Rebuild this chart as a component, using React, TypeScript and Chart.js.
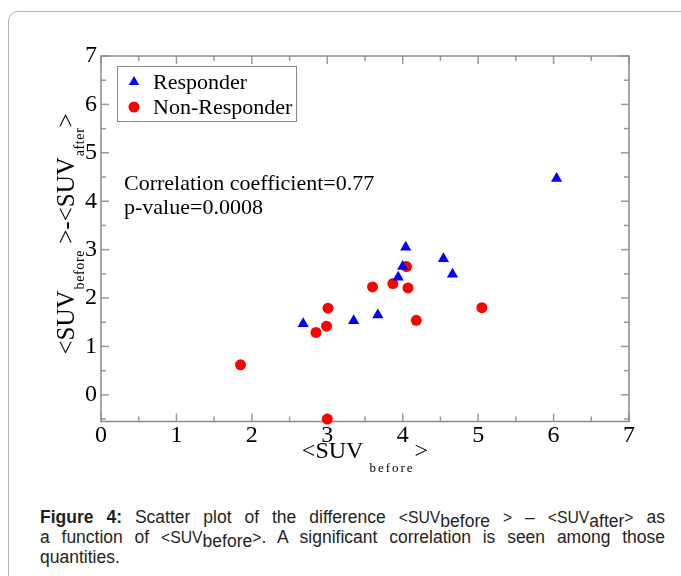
import React, { useEffect, useRef } from "react";
import { Chart, registerables } from "chart.js";

Chart.register(...registerables);

// ---- data ----
const seriesLabels = ["Responder", "Non-Responder"];
const responderX = [2.68, 3.35, 3.67, 3.94, 4.0, 4.04, 4.54, 4.66, 6.04];
const responderY = [1.47, 1.53, 1.65, 2.43, 2.65, 3.05, 2.81, 2.49, 4.47];
const nonResponderX = [1.85, 2.85, 2.99, 3.01, 3.0, 3.6, 3.87, 4.05, 4.07, 4.18, 5.05];
const nonResponderY = [0.62, 1.29, 1.42, 1.79, -0.5, 2.23, 2.3, 2.65, 2.21, 1.54, 1.8];
const xTickValues = [0, 1, 2, 3, 4, 5, 6, 7];
const yTickValues = [0, 1, 2, 3, 4, 5, 6, 7];
const xMinorValues = [0.5, 1.5, 2.5, 3.5, 4.5, 5.5, 6.5];
const yMinorValues = [-0.5, 0.5, 1.5, 2.5, 3.5, 4.5, 5.5, 6.5];
const statLines = ["Correlation coefficient=0.77", "p-value=0.0008"];

const SERIF = '"Liberation Serif", "Times New Roman", serif';
const CANVAS_W = 681;
const CANVAS_H = 490;

function drawMarker(ctx: CanvasRenderingContext2D, style: string, x: number, y: number, r: number, color: string) {
  ctx.save();
  ctx.fillStyle = color;
  ctx.beginPath();
  if (style === "triangle") {
    let rad = 0;
    ctx.moveTo(x + Math.sin(rad) * r, y - Math.cos(rad) * r);
    rad += (2 * Math.PI) / 3;
    ctx.lineTo(x + Math.sin(rad) * r, y - Math.cos(rad) * r);
    rad += (2 * Math.PI) / 3;
    ctx.lineTo(x + Math.sin(rad) * r, y - Math.cos(rad) * r);
    ctx.closePath();
  } else {
    ctx.arc(x, y, r, 0, Math.PI * 2);
  }
  ctx.fill();
  ctx.restore();
}

type Seg = { t: string; sub?: boolean; gap?: number };

function segWidth(ctx: CanvasRenderingContext2D, segs: Seg[], main: number, sub: number, sp: number) {
  let w = 0;
  for (const s of segs) {
    ctx.font = `${s.sub ? sub : main}px ${SERIF}`;
    (ctx as any).letterSpacing = s.sub ? `${sp}px` : "0px";
    w += ctx.measureText(s.t).width + (s.gap || 0);
  }
  (ctx as any).letterSpacing = "0px";
  return w;
}

function drawSegs(ctx: CanvasRenderingContext2D, segs: Seg[], x0: number, base: number, main: number, sub: number, sp: number, off: number) {
  let x = x0;
  for (const s of segs) {
    x += s.gap || 0;
    ctx.font = `${s.sub ? sub : main}px ${SERIF}`;
    (ctx as any).letterSpacing = s.sub ? `${sp}px` : "0px";
    ctx.fillText(s.t, x, base + (s.sub ? off : 0));
    x += ctx.measureText(s.t).width;
  }
  (ctx as any).letterSpacing = "0px";
}

const framePlugin = {
  id: "frame",
  beforeDatasetsDraw(chart: any) {
    const { ctx, chartArea: a, scales } = chart;
    const xs = scales.x;
    const ys = scales.y;
    ctx.save();
    ctx.strokeStyle = "#9a9a9a";
    ctx.lineWidth = 1.5;
    const tick = (x1: number, y1: number, x2: number, y2: number) => {
      ctx.beginPath();
      ctx.moveTo(x1, y1);
      ctx.lineTo(x2, y2);
      ctx.stroke();
    };
    xTickValues.forEach((v) => {
      const p = xs.getPixelForValue(v);
      tick(p, a.bottom, p, a.bottom - 8);
      tick(p, a.top, p, a.top + 8);
    });
    xMinorValues.forEach((v) => {
      const p = xs.getPixelForValue(v);
      tick(p, a.bottom, p, a.bottom - 5);
      tick(p, a.top, p, a.top + 5);
    });
    yTickValues.forEach((v) => {
      const p = ys.getPixelForValue(v);
      tick(a.left, p, a.left + 8, p);
      tick(a.right, p, a.right - 8, p);
    });
    yMinorValues.forEach((v) => {
      const p = ys.getPixelForValue(v);
      tick(a.left, p, a.left + 5, p);
      tick(a.right, p, a.right - 5, p);
    });
    ctx.strokeStyle = "#8a8a8a";
    ctx.lineWidth = 1.5;
    ctx.strokeRect(a.left, a.top, a.right - a.left, a.bottom - a.top);
    ctx.restore();
  },
};

const overlayPlugin = {
  id: "overlay",
  afterDatasetsDraw(chart: any) {
    const { ctx, chartArea: a } = chart;
    ctx.save();
    // legend box
    const bx = a.left + 16;
    const by = a.top + 10;
    ctx.strokeStyle = "#8a8a8a";
    ctx.lineWidth = 1;
    ctx.strokeRect(bx + 0.5, by + 0.5, 179, 55);
    const ds = chart.data.datasets;
    ctx.font = `22px ${SERIF}`;
    ctx.fillStyle = "#000";
    ctx.textBaseline = "middle";
    ctx.textAlign = "left";
    ds.forEach((d: any, i: number) => {
      const cy = by + 16 + i * 25;
      drawMarker(ctx, d.pointStyle, bx + 17, cy, d.pointStyle === "triangle" ? 6 : 5.5, d.backgroundColor);
      ctx.fillStyle = "#000";
      ctx.font = `22px ${SERIF}`;
      ctx.fillText(d.label, bx + 36, cy + 1);
    });
    // stats text
    statLines.forEach((s, i) => {
      ctx.fillText(s, a.left + 23, 184 + i * 24);
    });
    // axis titles
    ctx.textBaseline = "alphabetic";
    ctx.fillStyle = "#000";
    const ySegs: Seg[] = [
      { t: "<SUV" },
      { t: "before", sub: true, gap: 1 },
      { t: " >-<SUV" },
      { t: "after", sub: true, gap: 1 },
      { t: ">" },
    ];
    const yw = segWidth(ctx, ySegs, 25, 14, 0.6);
    ctx.save();
    ctx.translate(74, 234);
    ctx.rotate(-Math.PI / 2);
    drawSegs(ctx, ySegs, -yw / 2, 0, 25, 14, 0.6, 10);
    ctx.restore();
    const xSegs: Seg[] = [
      { t: "<SUV" },
      { t: "before", sub: true, gap: 6 },
      { t: ">" },
    ];
    const xw = segWidth(ctx, xSegs, 24, 13, 2);
    drawSegs(ctx, xSegs, (a.left + a.right) / 2 - xw / 2, 458, 24, 13, 2, 14);
    ctx.restore();
  },
};

export default function App() {
  const ref = useRef<HTMLCanvasElement | null>(null);
  useEffect(() => {
    if (!ref.current) return;
    const chart = new Chart(ref.current, {
      type: "scatter",
      data: {
        datasets: [
          {
            label: seriesLabels[0],
            data: responderX.map((x, i) => ({ x, y: responderY[i] })),
            pointStyle: "triangle",
            pointRadius: 6.5,
            backgroundColor: "#0000ff",
            borderColor: "#0000ff",
            borderWidth: 0,
            clip: false,
          } as any,
          {
            label: seriesLabels[1],
            data: nonResponderX.map((x, i) => ({ x, y: nonResponderY[i] })),
            pointStyle: "circle",
            pointRadius: 5.5,
            backgroundColor: "#ff0000",
            borderColor: "#ff0000",
            borderWidth: 0,
            clip: false,
          } as any,
        ],
      },
      options: {
        responsive: false,
        animation: false,
        devicePixelRatio: 1,
        layout: { padding: { top: 56, right: 52, left: 0, bottom: 0 } },
        plugins: { legend: { display: false }, tooltip: { enabled: false } },
        scales: {
          x: {
            type: "linear",
            min: 0,
            max: 7,
            afterFit: (s: any) => {
              s.height = CANVAS_H - 421.5;
            },
            afterBuildTicks: (s: any) => {
              s.ticks = xTickValues.map((v) => ({ value: v }));
            },
            grid: { display: false, drawTicks: false },
            border: { display: false },
            ticks: {
              font: { family: SERIF, size: 24 },
              color: "#000",
              padding: 0,
              maxRotation: 0,
              autoSkip: false,
            },
          },
          y: {
            type: "linear",
            min: -0.55,
            max: 7,
            afterFit: (s: any) => {
              s.width = 101;
            },
            afterBuildTicks: (s: any) => {
              s.ticks = yTickValues.map((v) => ({ value: v }));
            },
            grid: { display: false, drawTicks: false },
            border: { display: false },
            ticks: {
              font: { family: SERIF, size: 24 },
              color: "#000",
              padding: 4,
              autoSkip: false,
            },
          },
        },
      } as any,
      plugins: [framePlugin, overlayPlugin],
    });
    return () => chart.destroy();
  }, []);

  const capFont = '17.5px "Liberation Sans", Arial, sans-serif';
  const sub = (t: string) => <span style={{ position: "relative", top: 4 }}>{t}</span>;
  const sm = (t: string) => <span style={{ fontSize: "0.9em" }}>{t}</span>;
  const lineStyle: React.CSSProperties = {
    textAlign: "justify",
    textAlignLast: "justify" as any,
    height: 20,
    whiteSpace: "nowrap",
  };
  return (
    <div style={{ position: "absolute", left: 0, top: 0, width: 681, height: 576, overflow: "hidden", background: "#fff" }}>
      <div
        style={{
          position: "absolute",
          left: 8,
          top: 11,
          width: 720,
          height: 620,
          border: "1px solid #b5b5b5",
          borderRadius: 10,
          boxSizing: "border-box",
        }}
      />
      <canvas ref={ref} width={CANVAS_W} height={CANVAS_H} style={{ position: "absolute", left: 0, top: 0, width: CANVAS_W, height: CANVAS_H }} />
      <div
        style={{
          position: "absolute",
          left: 40,
          top: 507,
          width: 625,
          font: capFont,
          lineHeight: "20px",
          color: "#231f20",
        }}
      >
        <div style={lineStyle}>
          <b>Figure 4:</b> Scatter plot of the difference {sm("<SUV")}{sub("before")} {sm(">")} – {sm("<SUV")}{sub("after")}{sm(">")} as
        </div>
        <div style={lineStyle}>
          a function of {sm("<SUV")}{sub("before")}{sm(">")}. A significant correlation is seen among those
        </div>
        <div style={{ height: 20 }}>quantities.</div>
      </div>
    </div>
  );
}
